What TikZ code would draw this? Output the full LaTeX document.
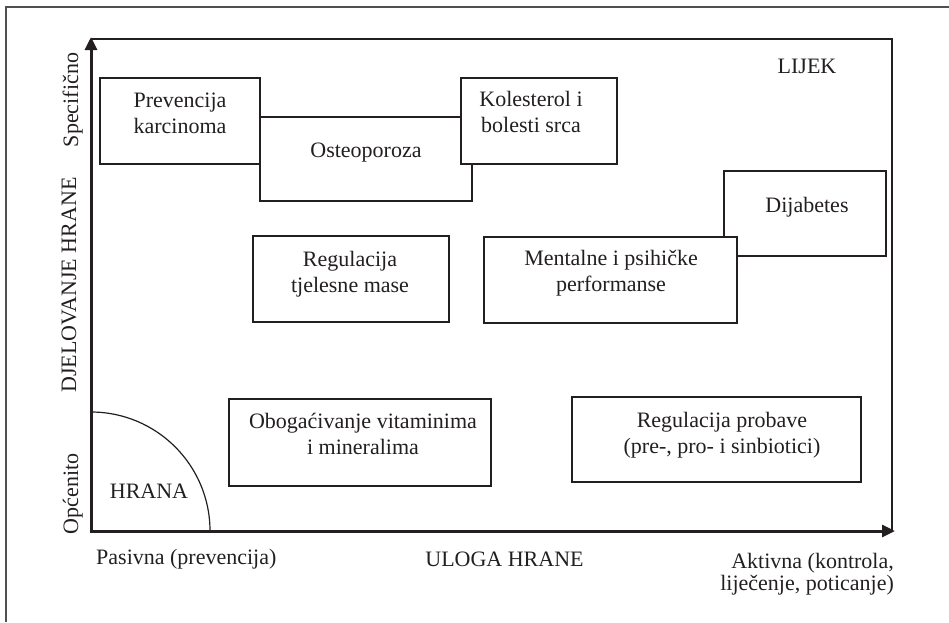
\documentclass[tikz,border=0pt]{standalone}
\usepackage{fontspec}
\setmainfont{Liberation Serif}
\usetikzlibrary{arrows.meta}
\definecolor{fg}{RGB}{35,31,32}
\definecolor{frame}{RGB}{80,80,80}
\begin{document}
\begin{tikzpicture}[x=1pt,y=-1pt,
  every node/.style={text=fg, font=\fontsize{22}{26}\selectfont, inner sep=0pt},
  box/.style={draw=fg, fill=white, line width=1.2pt, rectangle},
  lbl/.style={align=center, anchor=base},
  axis/.style={draw=fg, line width=3pt, -{Triangle[length=13pt,width=12pt]}},
  thin/.style={draw=fg, line width=1.2pt}
]
\useasboundingbox (0,0) rectangle (949,622);
% outer frame
\draw[frame, line width=1.3pt] (6,622) -- (6,7) -- (949,7);
% inner frame
\coordinate (O) at (91,531);
\coordinate (TL) at (91,39);
\coordinate (TR) at (892,39);
\coordinate (BR) at (892,531);
\draw[thin] (TL) -- (TR) -- (BR);
% boxes (back ones first)
\node[box, minimum width=212pt, minimum height=84pt] (osteo) at (366,159) {};
\node[box, minimum width=160pt, minimum height=86pt] (prev) at (180,121) {};
\node[box, minimum width=156pt, minimum height=86pt] (kol) at (539,121) {};
\node[box, minimum width=162pt, minimum height=85pt] (dija) at (805,213.5) {};
\node[box, minimum width=253pt, minimum height=86pt] (ment) at (610.5,280) {};
\node[box, minimum width=196pt, minimum height=86pt] (tjel) at (351,279) {};
\node[box, minimum width=262pt, minimum height=87pt] (obog) at (360,442.5) {};
\node[box, minimum width=289pt, minimum height=85pt] (probava) at (716.5,439.5) {};
% box texts (base anchor = baseline of the last line)
\node[lbl] (osteot) at (366,157) {Osteoporoza};
\node[lbl] (prevt) at (180,133) {Prevencija\\karcinoma};
\node[lbl] (kolt) at (531,132) {Kolesterol i\\bolesti srca};
\node[lbl] (dijat) at (807,212) {Dijabetes};
\node[lbl] (mentt) at (611,291) {Mentalne i psihičke\\performanse};
\node[lbl] (tjelt) at (350,292) {Regulacija\\tjelesne mase};
\node[lbl] (obogt) at (363,454) {Obogaćivanje vitaminima\\i mineralima};
\node[lbl] (probavat) at (722,453) {Regulacija probave\\(pre-, pro- i sinbiotici)};
% HRANA arc
\draw[thin] ([xshift=119pt]O) arc[start angle=0, end angle=90, radius=119pt];
\node[lbl] (hrana) at (149,498) {HRANA};
\node[lbl] (lijek) at (807,73) {LIJEK};
% axes
\draw[axis] ([yshift=1.5pt]O) -- (91,37);
\draw[axis] ([xshift=-1.5pt]O) -- (895,531);
% axis labels
\node[anchor=base west] (pas) at (96,564) {Pasivna (prevencija)};
\node[lbl] (uloga) at (504.5,566) {ULOGA HRANE};
\node[align=right, anchor=base east, font=\fontsize{22}{22}\selectfont] (akt) at (894,590) {Aktivna (kontrola,\\liječenje, poticanje)};
\node[rotate=90, anchor=base] (spec) at (78,100) {Specifično};
\node[rotate=90, anchor=base] (djel) at (76,285) {DJELOVANJE HRANE};
\node[rotate=90, anchor=base] (opc) at (78,494) {Općenito};
\end{tikzpicture}
\end{document}
